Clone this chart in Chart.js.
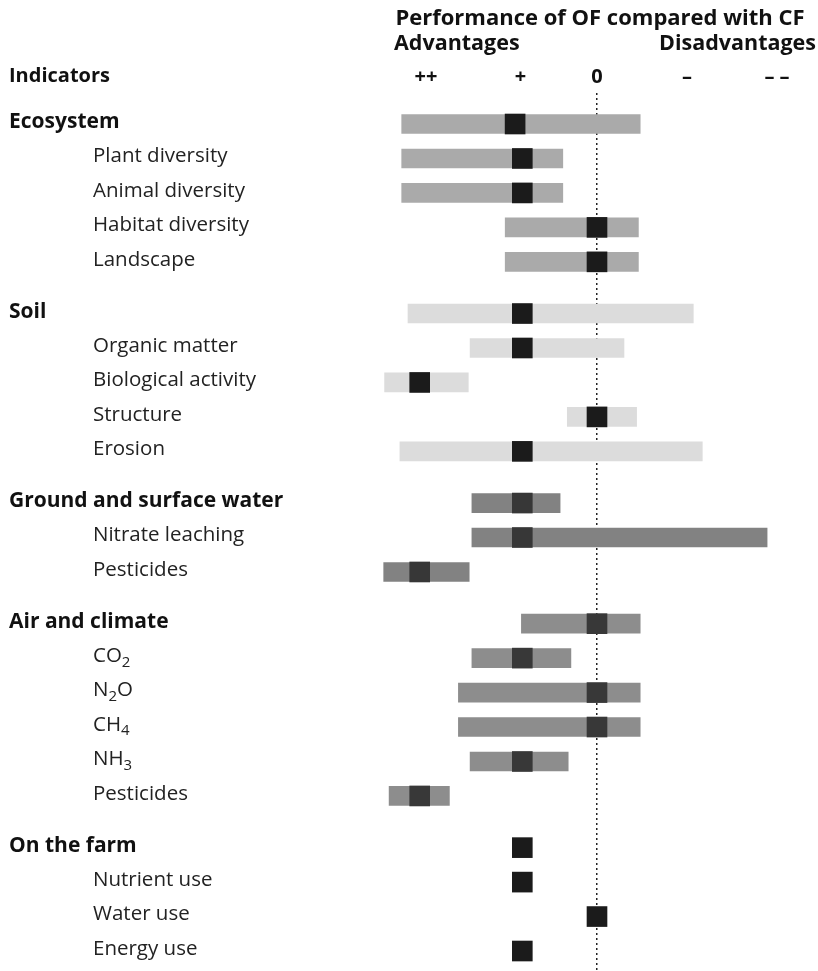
<!DOCTYPE html>
<html>
<head>
<meta charset="utf-8">
<script src="https://cdn.jsdelivr.net/npm/chart.js@4"></script>
<style>
  body { margin: 0; background: #fff; }
  #wrap { width: 818px; height: 971px; position: relative; }
</style>
</head>
<body>
<div id="wrap"><canvas id="chart"></canvas></div>
<script>
// indicators, grouped; level 0 = group heading, 1 = indicator
const indicators = ['Ecosystem', 'Plant diversity', 'Animal diversity', 'Habitat diversity', 'Landscape',
    'Soil', 'Organic matter', 'Biological activity', 'Structure', 'Erosion',
    'Ground and surface water', 'Nitrate leaching', 'Pesticides',
    'Air and climate', 'CO_2', 'N_2O', 'CH_4', 'NH_3', 'Pesticides',
    'On the farm', 'Nutrient use', 'Water use', 'Energy use'];
const groupOf = [0, 0, 0, 0, 0, 1, 1, 1, 1, 1, 2, 2, 2, 3, 3, 3, 3, 3, 3, 4, 4, 4, 4];
const level = [0, 1, 1, 1, 1, 0, 1, 1, 1, 1, 0, 1, 1, 0, 1, 1, 1, 1, 1, 0, 1, 1, 1];

// performance range (left = advantage for OF) and typical value
const rangeLow = [-2.17, -2.17, -2.17, -1.02, -1.02, -2.1, -1.41, -2.36, -0.33, -2.19,
    -1.39, -1.39, -2.37, -0.84, -1.39, -1.54, -1.54, -1.41, -2.31, null, null, null, null];
const rangeHigh = [0.48, -0.38, -0.38, 0.46, 0.46, 1.07, 0.3, -1.43, 0.44, 1.17,
    -0.41, 1.89, -1.42, 0.48, -0.29, 0.48, 0.48, -0.32, -1.64, null, null, null, null];
const median = [-0.91, -0.83, -0.83, 0, 0, -0.83, -0.83, -1.97, 0, -0.83,
    -0.83, -0.83, -1.97, 0, -0.83, 0, 0, -0.83, -1.97, -0.83, -0.83, 0, -0.83];

const tickValues = [-1.9, -0.85, 0, 1, 2];
const tickLabels = ['++', '+', '0', '–', '– –'];

const barColors = ['#aaaaaa', '#dcdcdc', '#828282', '#8d8d8d', '#aaaaaa'];
const markColors = ['#1b1b1b', '#1b1b1b', '#373737', '#383838', '#1b1b1b'];

// row positions: one step inside a group, 1.5 between groups
const rowPos = [];
let p = 0;
for (let i = 0; i < indicators.length; i++) {
    if (i > 0) p += groupOf[i] !== groupOf[i - 1] ? 1.5 : 1;
    rowPos.push(p);
}

const FONT = '"Open Sans", "Noto Sans", sans-serif';

function drawLabel(ctx, text, x, y, size) {
    // handles chemical subscripts written as X_2
    const parts = text.split('_');
    ctx.fillText(parts[0], x, y);
    if (parts.length > 1) {
        let w = ctx.measureText(parts[0]).width;
        const sub = parts[1][0];
        const rest = parts[1].slice(1);
        const oldFont = ctx.font;
        ctx.font = Math.round(size * 0.72) + 'px ' + FONT;
        ctx.fillText(sub, x + w, y + size * 0.3);
        const sw = ctx.measureText(sub).width;
        ctx.font = oldFont;
        if (rest) ctx.fillText(rest, x + w + sw, y);
    }
}

const textPlugin = {
    id: 'textPlugin',
    afterDraw(chart) {
        const ctx = chart.ctx;
        const xs = chart.scales.x;
        const ys = chart.scales.y;
        ctx.save();
        ctx.fillStyle = '#111';
        ctx.textBaseline = 'middle';

        ctx.font = 'bold 22px ' + FONT;
        ctx.textAlign = 'center';
        ctx.fillText('Performance of OF compared with CF', 600, 19);
        ctx.font = 'bold 21.5px ' + FONT;
        ctx.textAlign = 'left';
        ctx.fillText('Advantages', 394, 44);
        ctx.textAlign = 'right';
        ctx.fillText('Disadvantages', 816, 44);
        ctx.font = 'bold 20px ' + FONT;
        ctx.textAlign = 'left';
        ctx.fillText('Indicators', 9, 76);

        ctx.textAlign = 'center';
        tickValues.forEach((v, i) => {
            ctx.fillText(tickLabels[i], xs.getPixelForValue(v), 77);
        });

        ctx.textAlign = 'left';
        indicators.forEach((name, i) => {
            const y = ys.getPixelForValue(rowPos[i]) - 2;
            if (level[i] === 0) {
                ctx.font = 'bold 21px ' + FONT;
                ctx.fillStyle = '#111';
                drawLabel(ctx, name, 9, y, 21);
            } else {
                ctx.font = '20.5px ' + FONT;
                ctx.fillStyle = '#222';
                drawLabel(ctx, name, 93, y, 20.5);
            }
        });
        ctx.restore();
    }
};

new Chart(document.getElementById('chart'), {
    type: 'bar',
    data: {
        datasets: [
            {
                type: 'bar',
                indexAxis: 'y',
                order: 1,
                data: indicators.map((n, i) => ({
                    y: rowPos[i],
                    x: rangeLow[i] === null ? null : [rangeLow[i], rangeHigh[i]]
                })),
                backgroundColor: indicators.map((n, i) => barColors[groupOf[i]]),
                borderWidth: 0,
                barThickness: 19
            },
            {
                type: 'scatter',
                indexAxis: 'x',
                order: 0,
                data: indicators.map((n, i) => ({ x: median[i], y: rowPos[i] })),
                pointStyle: 'rect',
                pointRadius: 14.6,
                pointBorderWidth: 0,
                pointBackgroundColor: indicators.map((n, i) => markColors[groupOf[i]]),
                borderWidth: 0
            }
        ]
    },
    options: {
        responsive: true,
        maintainAspectRatio: false,
        animation: false,
        indexAxis: 'y',
        layout: { autoPadding: false, padding: { top: 93, left: 381, right: 5, bottom: 0 } },
        plugins: {
            legend: { display: false },
            tooltip: { enabled: false },
            title: { display: false }
        },
        scales: {
            x: {
                type: 'linear',
                position: 'top',
                min: -2.4,
                max: 2.4,
                afterBuildTicks: axis => { axis.ticks = [{ value: 0 }]; },
                ticks: { display: false },
                grid: {
                    drawTicks: false,
                    lineWidth: 1.5,
                    color: c => c.tick && c.tick.value === 0 ? '#222' : 'rgba(0,0,0,0)'
                },
                border: { display: false, dash: [2, 3] }
            },
            y: {
                type: 'linear',
                display: false,
                reverse: true,
                offset: false,
                min: -0.9,
                max: 24.58
            }
        }
    },
    plugins: [textPlugin]
});
</script>
</body>
</html>
